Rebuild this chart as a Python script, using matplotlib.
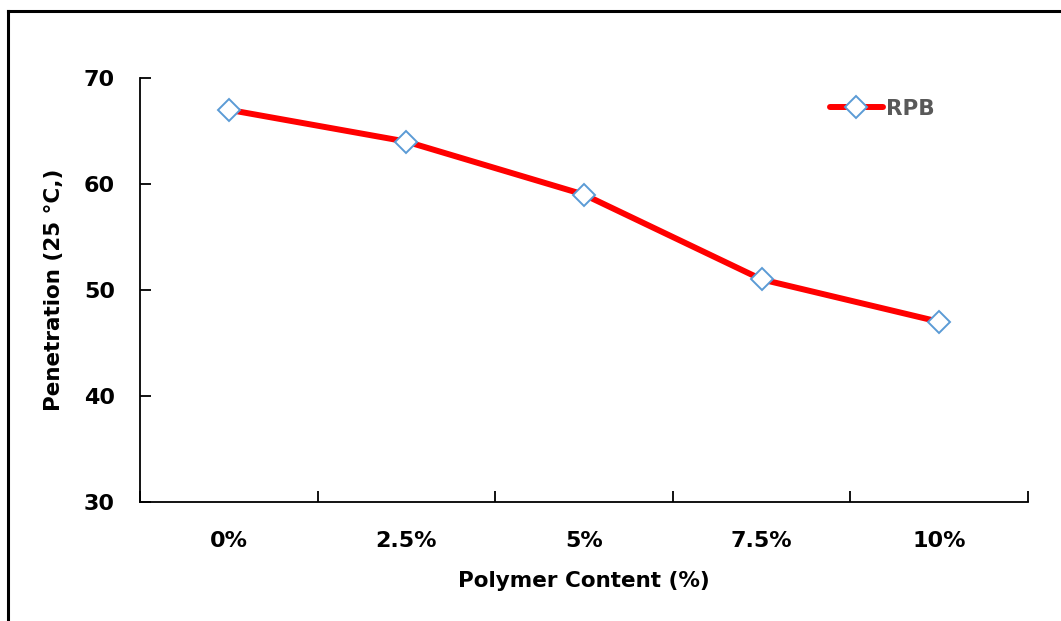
import numpy as np
import matplotlib.pyplot as plt
from matplotlib.lines import Line2D

plt.rcParams['font.family'] = ['DejaVu Sans']
plt.rcParams['font.weight'] = 'bold'

# data
categories = ["0%", "2.5%", "5%", "7.5%", "10%"]
penetration = [67, 64, 59, 51, 47]
series_name = "RPB"

W, H = 1061, 621
fig = plt.figure(figsize=(W / 100, H / 100), dpi=100)

# axes box in pixels: left 140, right 1028, top 78 (y=70), bottom 502 (y=30)
ax = fig.add_axes([140 / W, 1 - 502 / H, (1028 - 140) / W, (502 - 78) / H])

x = np.arange(len(categories))
ax.plot(x, penetration, color='#ff0000', lw=4.3, marker='D', ms=11.5,
        mfc='white', mec='#5b9bd5', mew=1.4, label=series_name, zorder=3,
        solid_capstyle='round')

ax.set_xlim(-0.5, len(categories) - 0.5)
ax.set_ylim(30, 70)
ax.set_yticks(np.arange(30, 71, 10))

ax.set_xticks(x)
ax.set_xticklabels(categories)
ax.set_xticks(np.arange(-0.5, len(categories), 1), minor=True)
ax.tick_params(axis='x', which='major', length=0, pad=21, labelsize=16)
ax.tick_params(axis='x', which='minor', direction='in', length=8, width=1.3)
ax.tick_params(axis='y', direction='in', length=8, width=1.3, pad=18,
               labelsize=16)

for s in ['top', 'right']:
    ax.spines[s].set_visible(False)
for s in ['left', 'bottom']:
    ax.spines[s].set_linewidth(1.3)

ax.set_xlabel("Polymer Content (%)", fontsize=15.5, fontweight='bold', labelpad=14)
ax.set_ylabel("Penetration (25 \u00b0C,)", fontsize=15.5, fontweight='bold', labelpad=14)

leg = ax.legend(loc='upper left', bbox_to_anchor=(0.755, 0.997), frameon=False,
                fontsize=15.5, handlelength=2.45, handletextpad=0.15)
for t in leg.get_texts():
    t.set_color('#595959')

# outer frame (only top and left visible in the crop)
fig.add_artist(Line2D([8 / W, 8 / W], [0, 1 - 11 / H], color='black', lw=2.2,
                      transform=fig.transFigure))
fig.add_artist(Line2D([8 / W, 1], [1 - 11 / H, 1 - 11 / H], color='black', lw=2.2,
                      transform=fig.transFigure))

fig.savefig("out.png", dpi=100)
